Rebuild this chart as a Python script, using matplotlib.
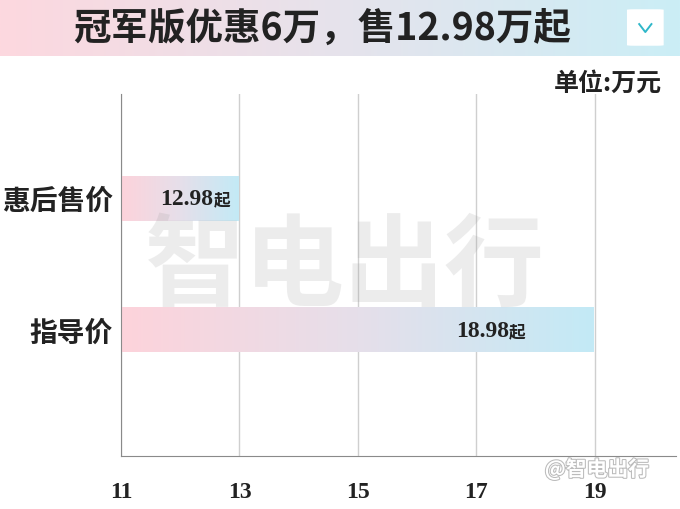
import numpy as np
import matplotlib
matplotlib.use("Agg")
import matplotlib.pyplot as plt
import matplotlib.patheffects as pe
from matplotlib.colors import LinearSegmentedColormap

plt.rcParams['font.family'] = ['Noto Sans CJK SC', 'DejaVu Sans']

# ------------------ DATA ------------------
categories = ["惠后售价", "指导价"]
prices = [12.98, 18.98]
price_labels = ["12.98", "18.98"]
x_ticks = [11, 13, 15, 17, 19]
title = "冠军版优惠6万，售12.98万起"
unit = "单位:万元"
x_start = 11

PINK = "#fdd3db"
BLUE = "#c3eaf6"
grad = LinearSegmentedColormap.from_list("pb", [PINK, "#e6dfea", BLUE])

fig = plt.figure(figsize=(6.8, 5.1), dpi=100)
fig.patch.set_facecolor("white")

# ------------------ TITLE BANNER ------------------
ban = fig.add_axes([0, 1 - 57 / 510, 1, 57 / 510])
ban.imshow(np.linspace(0, 1, 256).reshape(1, -1), cmap=LinearSegmentedColormap.from_list(
    "ban", ["#fdd8df", "#e6e3ec", "#cbeef6"]), aspect="auto", extent=[0, 1, 0, 1])
ban.set_xlim(0, 1)
ban.set_ylim(0, 1)
ban.axis("off")
ban.text(0.474, 0.5, title, ha="center", va="center", fontsize=27,
         fontweight="black", color="#222222")
ban.add_patch(matplotlib.patches.FancyBboxPatch((0.922, 0.18), 0.054, 0.64,
              boxstyle="round,pad=0,rounding_size=0.01", fc="white", ec="none"))
ban.plot([0.940, 0.949, 0.958], [0.56, 0.42, 0.56], color="#2fb7c9", lw=1.4)

# ------------------ MAIN CHART ------------------
ax = fig.add_axes([121 / 680, 1 - 457 / 510, 555 / 680, 362 / 510])
ypos = [1, 0]
bar_h = 0.34
label_pad = [8, 68]  # pixels between bar end and label end

for y, v in zip(ypos, prices):
    ax.imshow(np.linspace(0, 1, 256).reshape(1, -1), cmap=grad, aspect="auto",
              extent=[x_start, v, y - bar_h / 2, y + bar_h / 2], zorder=2)

for y, v, lab, p in zip(ypos, prices, price_labels, label_pad):
    ax.annotate("起", (v, y), xytext=(-p, -1), textcoords="offset pixels",
                ha="right", va="center", fontsize=12, fontweight="bold",
                color="#222222", zorder=4)
    ax.annotate(lab, (v, y), xytext=(-p - 17, 0), textcoords="offset pixels",
                ha="right", va="center", fontsize=17, fontweight="bold",
                color="#222222", family="Liberation Serif", zorder=4)

ax.set_xlim(11, 20.37)
ax.set_ylim(-0.955, 1.79)
ax.set_xticks(x_ticks)
ax.set_xticklabels([str(t) for t in x_ticks], fontsize=17, fontweight="bold",
                   family="Liberation Serif", color="#222222")
ax.tick_params(axis="x", length=0, pad=18)
ax.set_yticks(ypos)
ax.set_yticklabels(categories, fontsize=20, fontweight="bold", color="#222222")
ax.tick_params(axis="y", length=0, pad=6)
ax.grid(axis="x", color="#cfcfcf", lw=1, zorder=0)
ax.set_axisbelow(True)
for s in ["top", "right"]:
    ax.spines[s].set_visible(False)
ax.spines["left"].set_color("#8a8a8a")
ax.spines["bottom"].set_color("#8a8a8a")

fig.text(662 / 680, 1 - 84 / 510, unit, ha="right", va="center", fontsize=18,
         fontweight="bold", color="#222222")

# watermarks
fig.text(345 / 680, 1 - 268 / 510, "智电出行", ha="center", va="center",
         fontsize=72, fontweight="bold", color="#9a9a9a", alpha=0.18, zorder=10)
fig.text(597 / 680, 1 - 470 / 510, "@智电出行", ha="center", va="center",
         fontsize=15, fontweight="bold", color="white", zorder=10,
         path_effects=[pe.withStroke(linewidth=1.5, foreground="#bbbbbb")])

fig.savefig("out.png", dpi=100)
